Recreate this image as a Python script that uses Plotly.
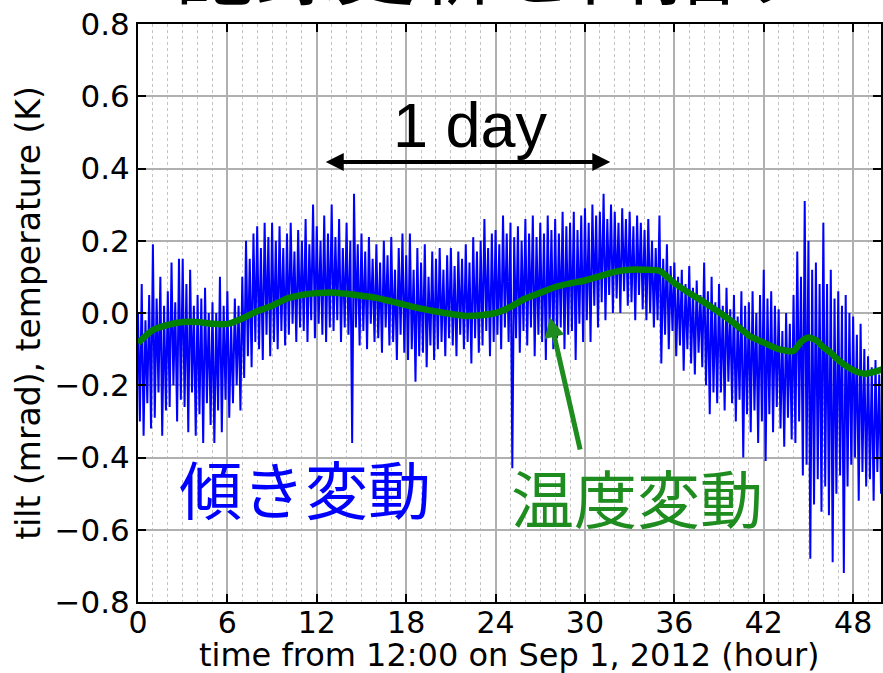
import numpy as np
import plotly.graph_objects as go

# ---------------- data ----------------
# tilt signal: local peaks (at h, h+0.25, ...) and troughs (at h+0.125, ...), 4 per hour
tilt_peaks = [
    0.00, 0.08, -0.02, 0.05,   0.19, 0.04, 0.10, 0.02,   0.06, 0.14, 0.03, 0.15,
    0.15, 0.08, 0.12, 0.02,    0.05, 0.04, 0.07, 0.00,   0.03, 0.00, 0.10, 0.02,
    0.06, -0.03, 0.04, 0.02,   0.10, 0.20, 0.15, 0.22,   0.24, 0.18, 0.25, 0.21,
    0.25, 0.20, 0.24, 0.18,    0.22, 0.25, 0.17, 0.23,   0.20, 0.26, 0.19, 0.30,
    0.24, 0.20, 0.27, 0.22,    0.30, 0.21, 0.26, 0.18,   0.25, 0.20, 0.33, 0.19,
    0.22, 0.17, 0.21, 0.15,    0.19, 0.14, 0.20, 0.16,   0.21, 0.12, 0.18, 0.22,
    0.16, 0.22, 0.12, 0.18,    0.14, 0.19, 0.10, 0.17,   0.15, 0.18, 0.12, 0.16,
    0.18, 0.13, 0.17, 0.15,    0.19, 0.14, 0.21, 0.17,   0.20, 0.26, 0.18, 0.22,
    0.23, 0.19, 0.27, 0.22,    0.25, 0.21, 0.24, 0.20,   0.26, 0.22, 0.27, 0.21,
    0.25, 0.22, 0.27, 0.23,    0.26, 0.22, 0.28, 0.24,   0.25, 0.28, 0.23, 0.27,
    0.29, 0.25, 0.30, 0.27,    0.28, 0.33, 0.26, 0.30,   0.28, 0.25, 0.29, 0.26,
    0.28, 0.24, 0.27, 0.25,    0.23, 0.26, 0.20, 0.18,   0.27, 0.15, 0.19, 0.13,
    0.14, 0.10, 0.12, 0.08,    0.13, 0.07, 0.09, 0.05,   0.14, 0.06, 0.10, 0.03,
    0.08, 0.02, 0.07, 0.01,    0.05, -0.01, 0.06, 0.02,  0.03, 0.06, 0.00, 0.05,
    0.12, 0.04, 0.06, 0.02,    0.01, -0.05, 0.00, -0.03, 0.05, 0.17, 0.10, 0.31,
    0.20, 0.12, 0.14, 0.08,    0.25, 0.08, 0.12, 0.04,   0.06, 0.02, 0.05, 0.00,
    -0.01, -0.06, -0.03, -0.10, -0.12, -0.15, -0.13, -0.17,
]
tilt_troughs = [
    -0.30, -0.34, -0.25, -0.32,  -0.29, -0.22, -0.34, -0.27,  -0.26, -0.20, -0.30, -0.24,
    -0.26, -0.33, -0.22, -0.34,  -0.28, -0.36, -0.25, -0.31,  -0.36, -0.27, -0.33, -0.24,
    -0.29, -0.25, -0.20, -0.27,  -0.18, -0.12, -0.15, -0.08,  -0.10, -0.13, -0.06, -0.12,
    -0.08, -0.10, -0.05, -0.09,  -0.06, -0.03, -0.08, -0.04,  -0.05, -0.08, -0.02, -0.07,
    -0.03, -0.06, -0.08, -0.04,  -0.05, -0.02, -0.08, -0.04,  -0.06, -0.36, -0.04, -0.09,
    -0.05, -0.10, -0.03, -0.08,  -0.07, -0.11, -0.04, -0.09,  -0.08, -0.13, -0.06, -0.11,
    -0.13, -0.10, -0.19, -0.12,  -0.11, -0.15, -0.09, -0.13,  -0.10, -0.08, -0.12, -0.07,
    -0.09, -0.12, -0.06, -0.10,  -0.08, -0.14, -0.07, -0.11,  -0.09, -0.05, -0.12, -0.08,
    -0.06, -0.10, -0.04, -0.08,  -0.43, -0.07, -0.11, -0.05,  -0.09, -0.04, -0.12, -0.06,
    -0.08, -0.13, -0.05, -0.10,  -0.07, -0.04, -0.10, -0.06,  -0.05, -0.13, -0.03, -0.08,
    -0.02, -0.08, 0.02, -0.04,   0.03, -0.02, 0.05, 0.00,     0.04, 0.00, 0.06, 0.02,
    0.03, -0.02, 0.05, 0.01,     -0.02, 0.00, -0.04, -0.02,   -0.14, -0.06, -0.10, -0.05,
    -0.12, -0.09, -0.16, -0.10,  -0.14, -0.17, -0.11, -0.15,  -0.20, -0.28, -0.22, -0.25,
    -0.22, -0.27, -0.19, -0.25,  -0.30, -0.24, -0.40, -0.28,  -0.33, -0.27, -0.36, -0.30,
    -0.41, -0.28, -0.33, -0.26,  -0.32, -0.37, -0.29, -0.35,  -0.36, -0.30, -0.45, -0.42,
    -0.68, -0.53, -0.46, -0.55,  -0.48, -0.56, -0.69, -0.50,  -0.45, -0.72, -0.48, -0.42,
    -0.40, -0.52, -0.44, -0.48,  -0.46, -0.52, -0.44, -0.50,
]
tilt_step_h = 0.125

temp_hours = [0, 1, 2, 3, 4, 5, 6, 7, 8, 9, 10, 11, 12, 13, 14, 15, 16, 17, 18, 19,
              20, 21, 22, 23, 24, 25, 26, 27, 28, 29, 30, 31, 32, 33, 34, 35, 36,
              37, 38, 39, 40, 41, 42, 43, 44, 44.5, 45, 45.5, 46, 46.5, 47, 48,
              48.8, 49.8, 50]
temp_values = [-0.083, -0.047, -0.033, -0.025, -0.025, -0.030, -0.030, -0.015, 0.005,
               0.020, 0.040, 0.050, 0.055, 0.057, 0.053, 0.048, 0.042, 0.032, 0.022,
               0.012, 0.004, -0.003, -0.008, -0.006, 0.000, 0.017, 0.040, 0.056,
               0.072, 0.082, 0.090, 0.102, 0.114, 0.120, 0.120, 0.117, 0.083, 0.055,
               0.030, 0.002, -0.028, -0.062, -0.082, -0.100, -0.105, -0.080, -0.068,
               -0.075, -0.095, -0.110, -0.130, -0.158, -0.168, -0.158, -0.155]

x_ticks = [0, 6, 12, 18, 24, 30, 36, 42, 48]
y_ticks = [-0.8, -0.6, -0.4, -0.2, 0.0, 0.2, 0.4, 0.6, 0.8]
y_ticktext = ["\u22120.8", "\u22120.6", "\u22120.4", "\u22120.2", "0.0", "0.2", "0.4", "0.6", "0.8"]

# ---------------- build series ----------------
tilt_t, tilt_v = [], []
for i, (hi, lo) in enumerate(zip(tilt_peaks, tilt_troughs)):
    tilt_t += [2 * i * tilt_step_h, (2 * i + 1) * tilt_step_h]
    tilt_v += [hi, lo]

BLUE = "#0000ff"
GREEN_LINE = "#008000"
GREEN_TXT = "#1e8c1e"
GRID = "#b0b0b0"
FONT = "DejaVu Sans, Verdana, sans-serif"
JP = "Noto Sans CJK JP, sans-serif"

fig = go.Figure()
fig.add_trace(go.Scatter(x=tilt_t, y=tilt_v, mode="lines",
                         line=dict(color=BLUE, width=2.0), showlegend=False))
fig.add_trace(go.Scatter(x=temp_hours, y=temp_values, mode="lines",
                         line=dict(color=GREEN_LINE, width=6.5, shape="spline", smoothing=0.6),
                         showlegend=False))

fig.update_layout(
    width=883, height=673,
    margin=dict(l=138, r=0, t=24, b=71),
    paper_bgcolor="white", plot_bgcolor="white",
    font=dict(family=FONT, color="black", size=28),
    xaxis=dict(range=[0, 49.87], tickvals=x_ticks, ticks="inside", ticklen=8,
               tickwidth=1.5, tickcolor="black", mirror="allticks", showline=True,
               linecolor="black", linewidth=2, showgrid=True, gridcolor=GRID,
               gridwidth=1.5, zeroline=False, tickfont=dict(size=30),
               ticklabelstandoff=-7,
               minor=dict(dtick=1, tick0=0, ticks="", showgrid=True,
                          gridcolor="#c4c4c4", griddash="dot", gridwidth=1)),
    yaxis=dict(range=[-0.8, 0.8], tickvals=y_ticks, ticktext=y_ticktext,
               ticks="inside", ticklen=8, tickwidth=1.5, tickcolor="black",
               mirror="allticks", showline=True, linecolor="black", linewidth=2,
               showgrid=True, gridcolor=GRID, gridwidth=1.5, zeroline=False,
               tickfont=dict(size=31),
               title=dict(text="tilt (mrad), temperature (K)", font=dict(size=33),
                          standoff=4)),
)

# x-axis title placed just under the tick labels
fig.add_annotation(xref="paper", yref="paper", x=0.5, y=0, yanchor="middle",
                   yshift=-53, text="time from 12:00 on Sep 1, 2012 (hour)",
                   showarrow=False, font=dict(size=32))

# partially visible title at the top
fig.add_annotation(xref="paper", yref="paper", x=0.48, y=1, yanchor="bottom",
                   yshift=1, text="記録更新を目指す", showarrow=False,
                   font=dict(family=JP, size=80, color="black"))

# 1 day label and double arrow
fig.add_annotation(x=22.3, y=0.52, text="1 day", showarrow=False,
                   font=dict(family="Liberation Sans, Arial, sans-serif", size=63, color="black"))
fig.add_annotation(x=31.7, y=0.418, ax=12.5, ay=0.418, xref="x", yref="y",
                   axref="x", ayref="y", text="", showarrow=True, arrowhead=2,
                   arrowside="end+start", arrowsize=0.9, arrowwidth=4, arrowcolor="black")

# Japanese labels
fig.add_annotation(x=11.2, y=-0.48, text="傾き変動", showarrow=False,
                   font=dict(family=JP, size=63, color=BLUE))
fig.add_annotation(x=33.5, y=-0.505, text="温度変動", showarrow=False,
                   font=dict(family=JP, size=63, color=GREEN_TXT))
fig.add_annotation(x=27.65, y=-0.012, ax=29.7, ay=-0.382, xref="x", yref="y",
                   axref="x", ayref="y", text="", showarrow=True, arrowhead=2,
                   arrowsize=0.8, arrowwidth=5, arrowcolor=GREEN_TXT)

fig.write_html("out.html")
